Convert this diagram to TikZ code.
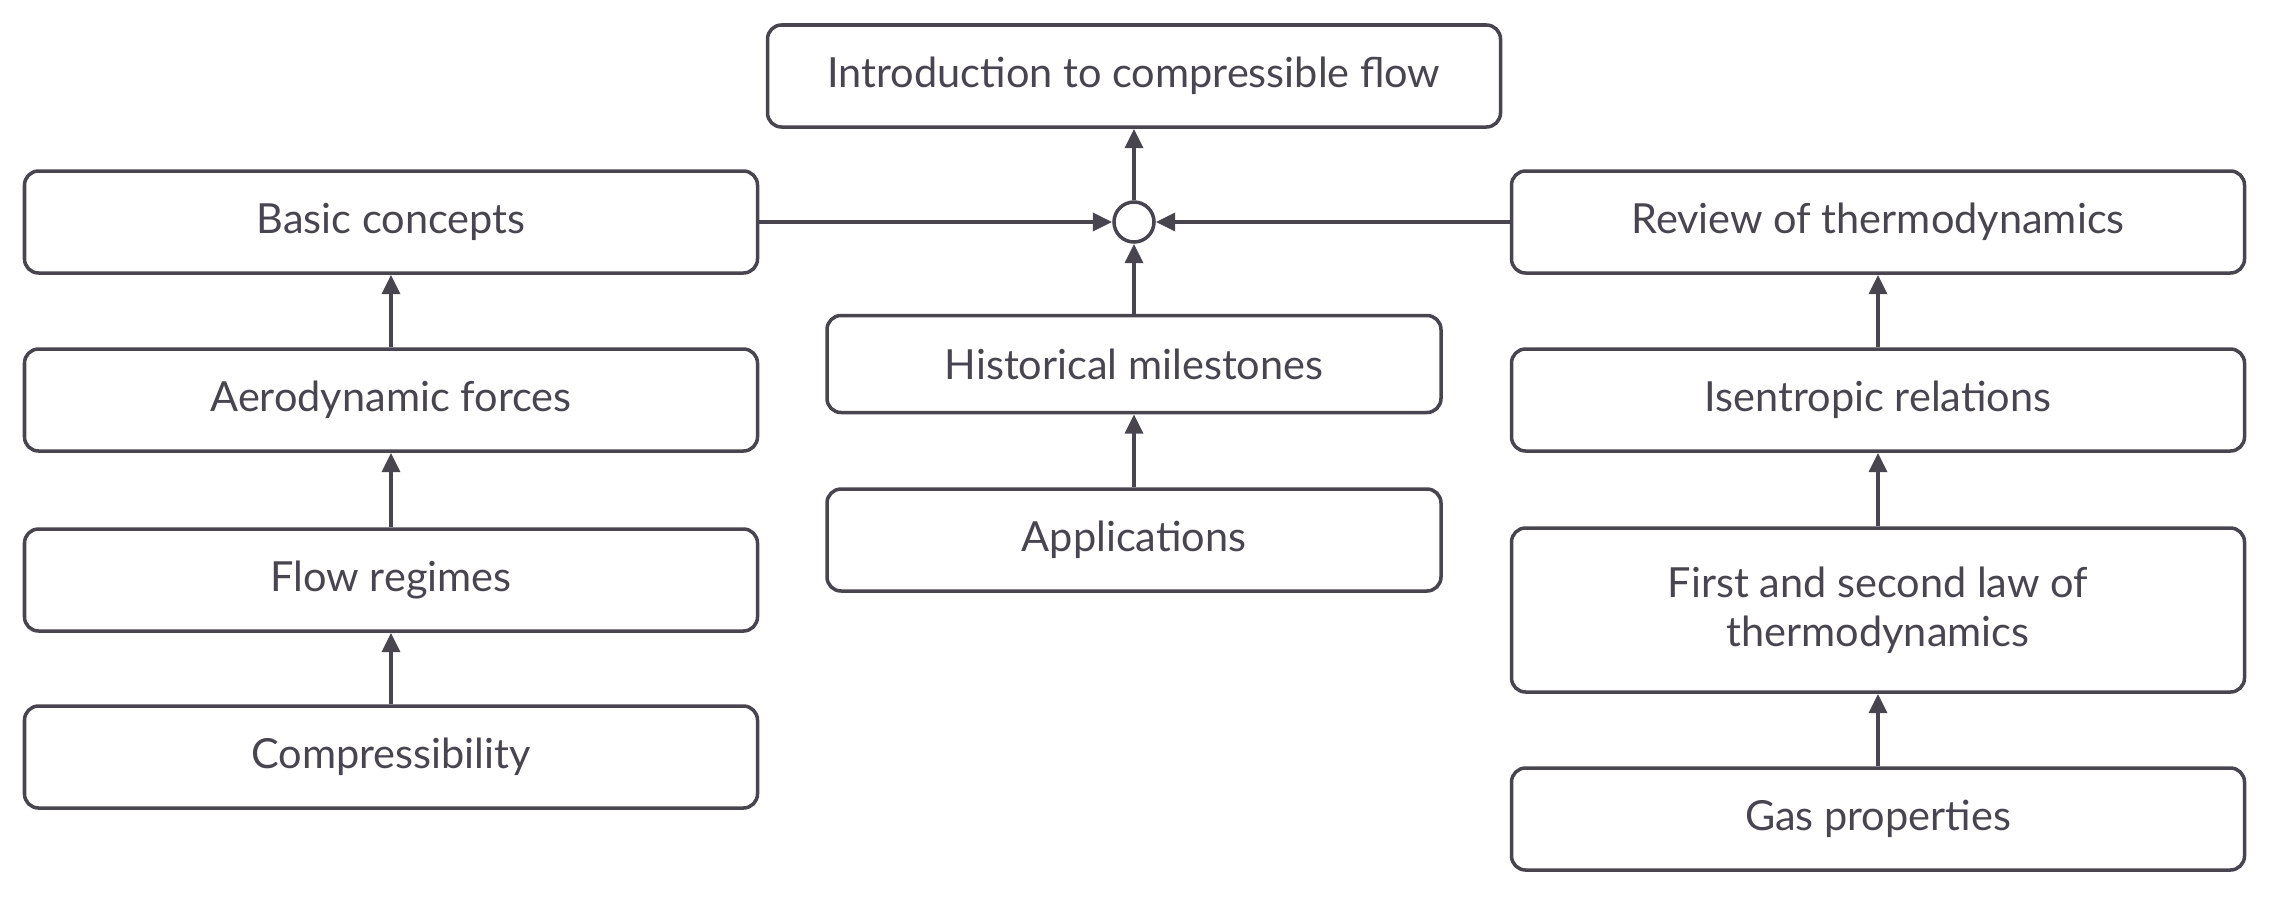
\documentclass[tikz,border=0pt]{standalone}
\usepackage{fontspec}
\setmainfont{Lato}
\usetikzlibrary{arrows.meta}
\definecolor{ink}{HTML}{48454F}
\begin{document}
\begin{tikzpicture}[thick,
	topic/.style={draw=ink, line width=1pt, rounded corners=4pt, minimum width=7.33cm, minimum height=1.02cm, align=center, text=ink, font=\fontsize{11.8}{14}\selectfont},
	link/.style={draw=ink, line width=1.3pt, -{Triangle[length=5.5pt, width=5pt]}}]
	\useasboundingbox (0, 0) rectangle (22.8, -8.97);
	% centre column
	\node[topic] (intro) at (11.34, -0.76) {Introduction to compressible flow};
	\node[draw=ink, line width=1pt, circle, minimum size=0.4cm, inner sep=0pt] (hub) at (11.34, -2.22) {};
	\node[topic, minimum width=6.14cm, minimum height=0.97cm] (hist) at (11.34, -3.64) {Historical milestones};
	\node[topic] (appl) at (11.34, -5.40) [minimum width=6.14cm] {Applications};
	% left column
	\node[topic] (basic) at (3.91, -2.22) {Basic concepts};
	\node[topic] (aero) at (3.91, -4.00) {Aerodynamic forces};
	\node[topic] (regime) at (3.91, -5.80) {Flow regimes};
	\node[topic] (compr) at (3.91, -7.57) {Compressibility};
	% right column
	\node[topic] (thermo) at (18.78, -2.22) {Review of thermodynamics};
	\node[topic] (isen) at (18.78, -4.00) {Isentropic relations};
	\node[topic, minimum height=1.64cm] (laws) at (18.78, -6.10) {First and second law of\\thermodynamics};
	\node[topic] (gas) at (18.78, -8.19) {Gas properties};
	% connectors
	\draw[link] (hub) -- (intro);
	\draw[link] (hist) -- (hub);
	\draw[link] (basic) -- (hub);
	\draw[link] (thermo) -- (hub);
	\draw[link] (appl) -- (hist);
	\draw[link] (aero) -- (basic);
	\draw[link] (regime) -- (aero);
	\draw[link] (compr) -- (regime);
	\draw[link] (isen) -- (thermo);
	\draw[link] (laws) -- (isen);
	\draw[link] (gas) -- (laws);
\end{tikzpicture}
\end{document}
